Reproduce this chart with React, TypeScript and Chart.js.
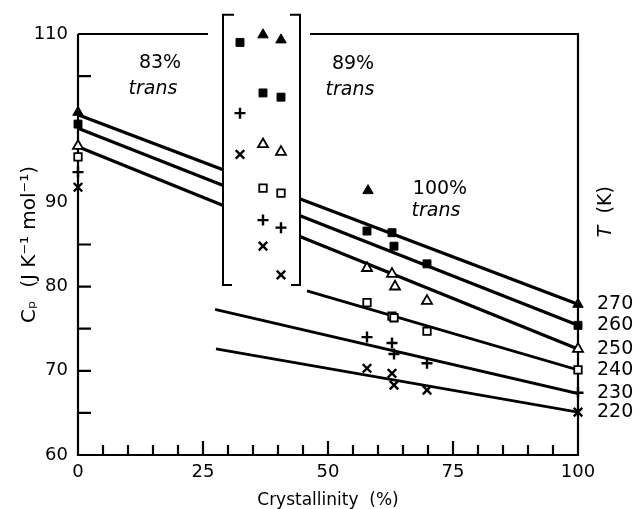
import React, { useEffect, useRef } from 'react';
import { Chart, registerables } from 'chart.js';

Chart.register(...registerables);

const FONT = '"DejaVu Sans", "Liberation Sans", sans-serif';

// ---- axis ticks ----
const xTickLabels = [0, 25, 50, 75, 100];
const xTickMarks = [5, 10, 15, 20, 25, 30, 35, 40, 45, 50, 55, 60, 65, 70, 75, 80, 85, 90, 95];
const yTickLabels = [60, 70, 80, 90, 110];
const yTickMarks = [65, 70, 75, 80, 85, 105];

// ---- temperatures (K) ----
const temperatures = ['270', '260', '250', '240', '230', '220'];

// ---- measured points: crystallinity (%) and Cp (J K-1 mol-1) ----
const pts270X = [0, 37.0, 40.6, 58.0, 100];
const pts270Y = [100.7, 109.9, 109.3, 91.4, 77.9];
const pts260X = [0, 32.4, 37.0, 40.6, 57.8, 62.8, 63.2, 69.8, 100];
const pts260Y = [99.3, 109.0, 103.0, 102.5, 86.6, 86.4, 84.8, 82.7, 75.4];
const pts250X = [0, 37.0, 40.6, 57.8, 62.8, 63.4, 69.8, 100];
const pts250Y = [96.7, 96.9, 96.0, 82.2, 81.5, 80.0, 78.3, 72.6];
const pts240X = [0, 37.0, 40.6, 57.8, 62.8, 63.2, 69.8, 100];
const pts240Y = [95.4, 91.7, 91.1, 78.1, 76.5, 76.3, 74.7, 70.1];
const pts230X = [0, 32.4, 37.0, 40.6, 57.8, 62.8, 63.2, 69.8, 100];
const pts230Y = [93.6, 100.6, 87.9, 87.0, 74.0, 73.3, 72.0, 70.9, 67.4];
const pts220X = [0, 32.4, 37.0, 40.6, 57.8, 62.8, 63.2, 69.8, 100];
const pts220Y = [91.8, 95.7, 84.8, 81.4, 70.3, 69.7, 68.3, 67.7, 65.1];

// ---- fitted straight lines (end points) ----
const fit270X = [0, 100];
const fit270Y = [100.4, 77.9];
const fit260X = [0, 100];
const fit260Y = [98.8, 75.4];
const fit250X = [0, 100];
const fit250Y = [96.6, 72.6];
const fit240X = [45.8, 100];
const fit240Y = [79.5, 70.1];
const fit230X = [27.4, 100];
const fit230Y = [77.3, 67.3];
const fit220X = [27.6, 100];
const fit220Y = [72.6, 65.1];

const pointX = [pts270X, pts260X, pts250X, pts240X, pts230X, pts220X];
const pointY = [pts270Y, pts260Y, pts250Y, pts240Y, pts230Y, pts220Y];
const fitX = [fit270X, fit260X, fit250X, fit240X, fit230X, fit220X];
const fitY = [fit270Y, fit260Y, fit250Y, fit240Y, fit230Y, fit220Y];

const markerStyles = [
  { pointStyle: 'triangle', filled: true, r: 6 },
  { pointStyle: 'rect', filled: true, r: 5.6 },
  { pointStyle: 'triangle', filled: false, r: 5.8 },
  { pointStyle: 'rect', filled: false, r: 5.3 },
  { pointStyle: 'cross', filled: false, r: 5.5 },
  { pointStyle: 'crossRot', filled: false, r: 6 },
];

const zip = (xs: number[], ys: number[]) => xs.map((x, i) => ({ x, y: ys[i] }));

// text notes in data coordinates
const notes = [
  { text: '83%', x: 16.4, y: 106.6, italic: false },
  { text: 'trans', x: 15.0, y: 103.5, italic: true },
  { text: '89%', x: 55.0, y: 106.4, italic: false },
  { text: 'trans', x: 54.4, y: 103.4, italic: true },
  { text: '100%', x: 72.4, y: 91.6, italic: false },
  { text: 'trans', x: 71.6, y: 89.0, italic: true },
];

const bracket = { left: 29.0, right: 44.4, top: 112.3, bottom: 80.2, topGapLeft: 26, topGapRight: 46.4 };

const decor = {
  id: 'decor',
  beforeDatasetsDraw(chart: any) {
    const { ctx, chartArea: a, scales } = chart;
    const x = scales.x;
    const y = scales.y;
    chart.$masked = false;
    ctx.save();
    ctx.strokeStyle = '#000';
    ctx.lineWidth = 2.2;
    ctx.lineCap = 'butt';
    ctx.beginPath();
    ctx.moveTo(a.left, a.top);
    ctx.lineTo(a.left, a.bottom);
    ctx.lineTo(a.right, a.bottom);
    ctx.lineTo(a.right, a.top);
    ctx.lineTo(x.getPixelForValue(bracket.topGapRight), a.top);
    ctx.moveTo(x.getPixelForValue(bracket.topGapLeft), a.top);
    ctx.lineTo(a.left, a.top);
    xTickMarks.forEach((v) => {
      const px = x.getPixelForValue(v);
      const len = xTickLabels.includes(v) ? 14 : 10;
      ctx.moveTo(px, a.bottom);
      ctx.lineTo(px, a.bottom - len);
    });
    yTickMarks.forEach((v) => {
      const py = y.getPixelForValue(v);
      ctx.moveTo(a.left, py);
      ctx.lineTo(a.left + 13, py);
    });
    ctx.stroke();
    ctx.restore();
  },
  beforeDatasetDraw(chart: any, args: any) {
    const ds = chart.data.datasets[args.index];
    if (ds.kind !== 'points' || chart.$masked) return;
    chart.$masked = true;
    const { ctx, scales } = chart;
    const x = scales.x;
    const y = scales.y;
    const l = x.getPixelForValue(bracket.left);
    const r = x.getPixelForValue(bracket.right);
    const t = y.getPixelForValue(bracket.top);
    const b = y.getPixelForValue(bracket.bottom);
    ctx.save();
    ctx.fillStyle = '#fff';
    ctx.fillRect(l, t, r - l, b - t);
    ctx.strokeStyle = '#000';
    ctx.lineWidth = 2;
    ctx.beginPath();
    ctx.moveTo(l + 11, t);
    ctx.lineTo(l, t);
    ctx.lineTo(l, b);
    ctx.lineTo(l + 9, b);
    ctx.moveTo(r - 10, t);
    ctx.lineTo(r, t);
    ctx.lineTo(r, b);
    ctx.lineTo(r - 9, b);
    ctx.stroke();
    ctx.restore();
  },
  afterDatasetsDraw(chart: any) {
    const { ctx, chartArea: a, scales } = chart;
    const x = scales.x;
    const y = scales.y;
    ctx.save();
    ctx.fillStyle = '#000';
    ctx.textAlign = 'center';
    ctx.textBaseline = 'middle';
    notes.forEach((n) => {
      ctx.font = (n.italic ? 'italic ' : '') + '19px ' + FONT;
      ctx.fillText(n.text, x.getPixelForValue(n.x), y.getPixelForValue(n.y));
    });
    // temperature labels at the end of each fitted line
    ctx.textAlign = 'left';
    ctx.font = '19px ' + FONT;
    temperatures.forEach((T, i) => {
      const ys = fitY[i];
      ctx.fillText(T, a.right + 19, y.getPixelForValue(ys[ys.length - 1]));
    });
    // "T (K)" rotated
    ctx.translate(a.right + 28, y.getPixelForValue(88.9));
    ctx.rotate(-Math.PI / 2);
    ctx.font = 'italic 19px ' + FONT;
    const w1 = ctx.measureText('T').width;
    ctx.font = '19px ' + FONT;
    const w2 = ctx.measureText('  (K)').width;
    const start = -(w1 + w2) / 2;
    ctx.textAlign = 'left';
    ctx.font = 'italic 19px ' + FONT;
    ctx.fillText('T', start, 0);
    ctx.font = '19px ' + FONT;
    ctx.fillText('  (K)', start + w1, 0);
    ctx.restore();
  },
};

export default function App() {
  const ref = useRef<HTMLCanvasElement | null>(null);
  useEffect(() => {
    if (!ref.current) return;
    const datasets: any[] = [];
    temperatures.forEach((T, i) => {
      datasets.push({
        kind: 'fit',
        label: T + ' K fit',
        data: zip(fitX[i], fitY[i]),
        showLine: true,
        borderColor: '#000',
        borderWidth: i < 3 ? 3.2 : 2.8,
        pointRadius: 0,
        order: 2,
      });
    });
    temperatures.forEach((T, i) => {
      const m = markerStyles[i];
      datasets.push({
        kind: 'points',
        label: T + ' K',
        data: zip(pointX[i], pointY[i]),
        showLine: false,
        pointStyle: m.pointStyle,
        pointRadius: m.r,
        backgroundColor: m.filled ? '#000' : '#fff',
        borderColor: '#000',
        borderWidth: m.filled ? 1 : m.pointStyle === 'cross' || m.pointStyle === 'crossRot' ? 2.4 : 1.8,
        order: 1,
        clip: false,
      });
    });
    const chart = new Chart(ref.current, {
      type: 'scatter',
      data: { datasets },
      plugins: [decor],
      options: {
        responsive: false,
        devicePixelRatio: 1,
        animation: false,
        layout: { padding: { top: 34, right: 62, left: 0, bottom: 0 } },
        plugins: { legend: { display: false }, tooltip: { enabled: false } },
        scales: {
          x: {
            type: 'linear',
            min: 0,
            max: 100,
            grid: { display: false, drawTicks: false },
            border: { display: false },
            afterBuildTicks: (s: any) => {
              s.ticks = xTickLabels.map((v) => ({ value: v }));
            },
            afterFit: (s: any) => {
              s.height = 54;
            },
            ticks: { color: '#000', font: { family: FONT, size: 18 }, padding: 7, maxRotation: 0 },
            title: {
              display: true,
              text: 'Crystallinity  (%)',
              color: '#000',
              font: { family: FONT, size: 17, lineHeight: 1 },
              padding: { top: 0, bottom: 0 },
            },
          },
          y: {
            type: 'linear',
            min: 60,
            max: 110,
            grid: { display: false, drawTicks: false },
            border: { display: false },
            afterBuildTicks: (s: any) => {
              s.ticks = yTickLabels.map((v) => ({ value: v }));
            },
            afterFit: (s: any) => {
              s.width = 78;
            },
            ticks: { color: '#000', font: { family: FONT, size: 18 }, padding: 10 },
            title: {
              display: true,
              text: 'Cₚ  (J K⁻¹ mol⁻¹)',
              color: '#000',
              font: { family: FONT, size: 20, lineHeight: 1 },
              padding: { top: 20, bottom: 0 },
            },
          },
        },
      } as any,
    });
    return () => chart.destroy();
  }, []);
  return (
    <div style={{ position: 'fixed', left: 0, top: 0, width: 640, height: 509, background: '#fff' }}>
      <canvas ref={ref} width={640} height={509} style={{ display: 'block' }} />
    </div>
  );
}
